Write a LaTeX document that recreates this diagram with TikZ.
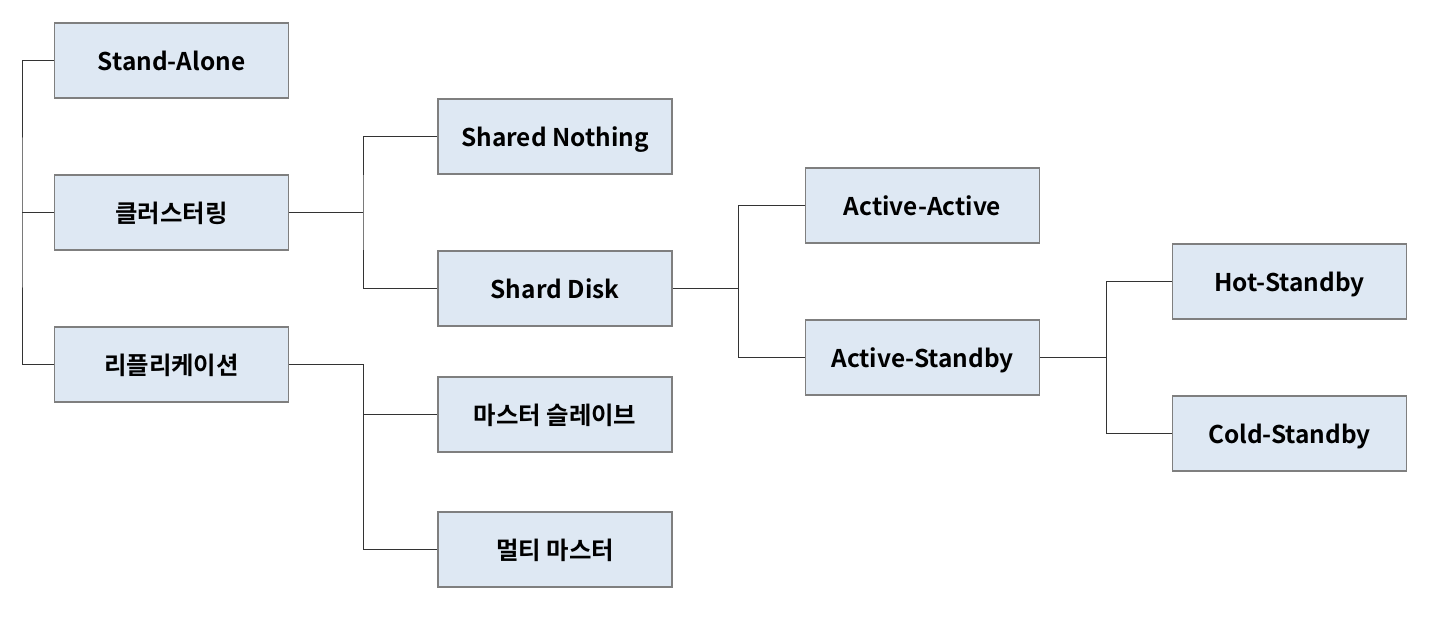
\documentclass[tikz,border=0pt]{standalone}
\usepackage{fontspec}
\setmainfont{Noto Sans CJK KR}[BoldFont={Noto Sans CJK KR Bold}]
\definecolor{boxfill}{HTML}{DEE8F3}
\definecolor{boxline}{HTML}{7F7F7F}
\definecolor{conn}{HTML}{333333}
\begin{document}
\begin{tikzpicture}[x=0.5pt,y=-0.5pt,
  box/.style={draw=boxline,fill=boxfill,line width=0.8pt,minimum width=117pt,minimum height=37.5pt,inner sep=0pt,text height=11pt,text depth=1.5pt,font=\fontsize{12.2}{14}\selectfont\bfseries},
  link/.style={draw=conn,line width=0.5pt}]
\useasboundingbox (0,0) rectangle (1438,622);
\node[box] (sa) at (171.5,60.5) {Stand-Alone};
\node[box] (cl) at (171.5,212.5) {클러스터링};
\node[box] (rp) at (171.5,364.5) {리플리케이션};
\node[box] (sn) at (555,136.5) {Shared Nothing};
\node[box] (sd) at (555,288.5) {Shard Disk};
\node[box] (ms) at (555,414.5) {마스터 슬레이브};
\node[box] (mm) at (555,549.5) {멀티 마스터};
\node[box] (aa) at (922.5,205.5) {Active-Active};
\node[box] (as) at (922.5,357.5) {Active-Standby};
\node[box] (hs) at (1289.5,281.5) {Hot-Standby};
\node[box] (cs) at (1289.5,433.5) {Cold-Standby};
\coordinate (r0) at (22,212.5);
\draw[link] (sa.west) -| (r0) |- (rp.west);
\draw[link] (r0) -- (cl.west);
\coordinate (j1) at (363,212.5);
\draw[link] (cl.east) -- (j1);
\draw[link] (sn.west) -| (j1) |- (sd.west);
\coordinate (j2) at (363,364.5);
\draw[link] (rp.east) -- (j2) |- (mm.west);
\draw[link] (j2) |- (ms.west);
\coordinate (j3) at (738,288.5);
\draw[link] (sd.east) -- (j3);
\draw[link] (aa.west) -| (j3) |- (as.west);
\coordinate (j4) at (1106,357.5);
\draw[link] (as.east) -- (j4);
\draw[link] (hs.west) -| (j4) |- (cs.west);
\end{tikzpicture}
\end{document}
